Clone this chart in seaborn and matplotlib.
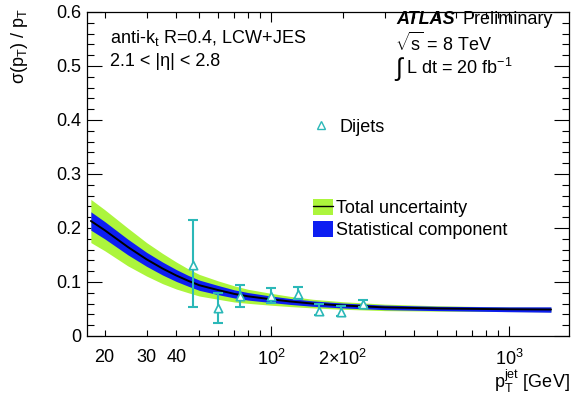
import matplotlib
matplotlib.use("Agg")
import matplotlib.pyplot as plt
import seaborn as sns
import numpy as np
import pandas as pd
from matplotlib.patches import Patch
from matplotlib.lines import Line2D
from matplotlib.ticker import FixedLocator, FixedFormatter

# ---- data ----
curve_pt = [17.5, 20, 25, 30, 35, 40, 45, 50, 60, 70, 80, 100, 120, 150, 200, 300, 500, 1000, 1500]
curve_val = [0.213, 0.196, 0.165, 0.142, 0.125, 0.112, 0.102, 0.094, 0.085, 0.078, 0.0735,
             0.068, 0.064, 0.060, 0.0565, 0.053, 0.051, 0.0495, 0.049]
total_half = [0.040, 0.038, 0.035, 0.031, 0.028, 0.025, 0.022, 0.020, 0.017, 0.015, 0.013,
              0.011, 0.0095, 0.008, 0.007, 0.006, 0.005, 0.0042, 0.004]
stat_half = [0.017, 0.016, 0.0145, 0.013, 0.012, 0.011, 0.010, 0.0095, 0.0085, 0.0075, 0.007,
             0.006, 0.0055, 0.005, 0.0045, 0.0042, 0.004, 0.0045, 0.005]

dijet_pt = [47, 60, 74, 100, 130, 159, 197, 244]
dijet_val = [0.132, 0.052, 0.074, 0.074, 0.078, 0.047, 0.045, 0.059]
dijet_err_lo = [0.078, 0.028, 0.020, 0.013, 0.009, 0.008, 0.008, 0.005]
dijet_err_hi = [0.082, 0.028, 0.021, 0.015, 0.013, 0.012, 0.010, 0.008]

x_major_vals = [100, 1000]
x_major_labels = [r"$10^{2}$", r"$10^{3}$"]
x_minor_vals = [20, 30, 40, 50, 60, 70, 80, 90, 200, 300, 400, 500, 600, 700, 800, 900]
x_minor_labels = ["20", "30", "40", "", "", "", "", "", r"$2{\times}10^{2}$",
                  "", "", "", "", "", "", ""]
y_tick_vals = [0, 0.1, 0.2, 0.3, 0.4, 0.5, 0.6]
y_tick_labels = ["0", "0.1", "0.2", "0.3", "0.4", "0.5", "0.6"]

GREEN = "#acf53c"
BLUE = "#0d1ef2"
CYAN = "#2bb8b8"

sns.set_theme(style="ticks")
plt.rcParams["font.family"] = ["Liberation Sans", "DejaVu Sans"]
plt.rcParams["mathtext.fontset"] = "custom"
plt.rcParams["mathtext.rm"] = "Liberation Sans"
plt.rcParams["mathtext.it"] = "Liberation Sans:italic"
plt.rcParams["mathtext.bf"] = "Liberation Sans:bold"
for k in ["text.color", "axes.labelcolor", "xtick.color", "ytick.color", "axes.edgecolor"]:
    plt.rcParams[k] = "black"
FS = 13

fig = plt.figure(figsize=(5.72, 3.97), dpi=100)
ax = fig.add_axes([87 / 572, 1 - 336 / 397, (569 - 87) / 572, (336 - 12) / 397])

cv = np.array(curve_val)
th = np.array(total_half)
sh = np.array(stat_half)
ax.fill_between(curve_pt, cv - th, cv + th, color=GREEN, lw=0, zorder=1)
ax.fill_between(curve_pt, cv - sh, cv + sh, color=BLUE, lw=0, zorder=2)
df = pd.DataFrame({"pt": curve_pt, "val": curve_val})
sns.lineplot(data=df, x="pt", y="val", ax=ax, color="black", lw=1.4, zorder=3)

ax.errorbar(dijet_pt, dijet_val, yerr=[dijet_err_lo, dijet_err_hi], fmt="none",
            ecolor=CYAN, elinewidth=1.5, capsize=3.5, capthick=1.5, zorder=4)
dd = pd.DataFrame({"pt": dijet_pt, "val": dijet_val})
sns.scatterplot(data=dd, x="pt", y="val", ax=ax, marker="^", s=36,
                facecolor="white", edgecolor=CYAN, linewidth=1.2, zorder=5)

ax.set_xscale("log")
ax.set_xlim(16.86, 1786)
ax.set_ylim(0, 0.6)
ax.set_xlabel("")
ax.set_ylabel("")

ax.xaxis.set_major_locator(FixedLocator(x_major_vals))
ax.xaxis.set_major_formatter(FixedFormatter(x_major_labels))
ax.xaxis.set_minor_locator(FixedLocator(x_minor_vals))
ax.xaxis.set_minor_formatter(FixedFormatter(x_minor_labels))
ax.set_yticks(y_tick_vals)
ax.set_yticklabels(y_tick_labels)
ax.yaxis.set_minor_locator(FixedLocator(np.arange(0, 0.6001, 0.02)))

ax.tick_params(axis="both", which="both", direction="in", top=True, right=True,
               colors="black", labelsize=FS, width=0.8)
ax.tick_params(axis="y", which="major", length=11, pad=4)
ax.tick_params(axis="y", which="minor", length=5)
ax.tick_params(axis="x", which="major", length=7, pad=9)
ax.tick_params(axis="x", which="minor", length=4, pad=9)
for s in ax.spines.values():
    s.set_linewidth(0.9)
    s.set_color("black")

# texts
fig.text(110 / 572, 1 - 38 / 397, r"anti-k$_{\mathregular{t}}$ R=0.4, LCW+JES", fontsize=FS, va="center")
fig.text(110 / 572, 1 - 61 / 397, "2.1 < |η| < 2.8", fontsize=FS, va="center")
fig.text(396 / 572, 1 - 19 / 397, "ATLAS", fontsize=FS, fontweight="bold", style="italic", va="center")
fig.text(462 / 572, 1 - 19 / 397, "Preliminary", fontsize=FS, va="center")
fig.text(395 / 572, 1 - 43 / 397, r"$\sqrt{\mathregular{s}}$ = 8 TeV", fontsize=FS, va="center")
fig.text(395 / 572, 1 - 69 / 397, "∫", fontsize=FS + 5, va="center")
fig.text(406 / 572, 1 - 68 / 397, r"L dt = 20 fb$^{\mathregular{-1}}$", fontsize=FS, va="center")

fig.text(20 / 572, 1 - 8 / 397, r"σ(p$_{\mathregular{T}}$) / p$_{\mathregular{T}}$", fontsize=FS,
         rotation=90, ha="center", va="top")
fig.text(570 / 572, 2 / 397, r"p$_{\mathregular{T}}^{\mathregular{jet}}$ [GeV]", fontsize=FS,
         ha="right", va="bottom")

# legends
h1 = [Line2D([], [], ls="none", marker="^", markersize=6, markerfacecolor="white",
             markeredgecolor=CYAN, markeredgewidth=1.0)]
leg1 = ax.legend(h1, ["Dijets"], loc="center left", bbox_to_anchor=(312 / 572, 1 - 127 / 397),
                 bbox_transform=fig.transFigure, frameon=False, fontsize=FS,
                 handlelength=1.0, handletextpad=0.5, borderpad=0, borderaxespad=0)
ax.add_artist(leg1)
h2 = [(Patch(facecolor=GREEN, edgecolor="none"), Line2D([], [], color="black", lw=1)),
      Patch(facecolor=BLUE, edgecolor="none")]
ax.legend(h2, ["Total uncertainty", "Statistical component"], loc="upper left",
          bbox_to_anchor=(313 / 572, 1 - 199 / 397), bbox_transform=fig.transFigure,
          frameon=False, fontsize=FS, handlelength=1.1, handleheight=1.0,
          handletextpad=0.15, labelspacing=0.2, borderpad=0, borderaxespad=0)

fig.savefig("out.png", dpi=100)
